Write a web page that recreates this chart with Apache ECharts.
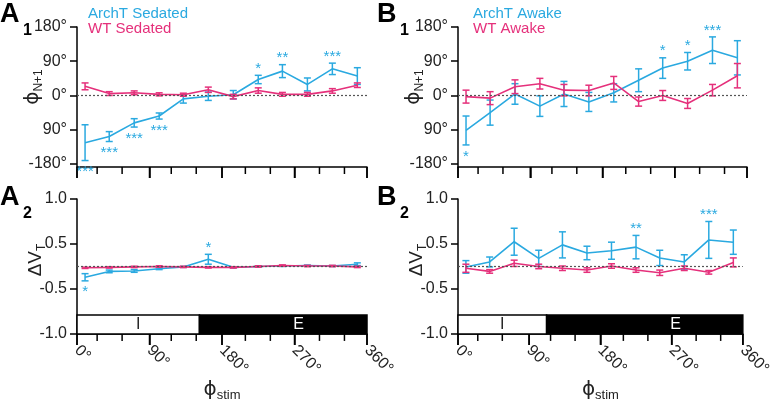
<!DOCTYPE html>
<html><head><meta charset="utf-8">
<script src="https://cdn.jsdelivr.net/npm/echarts@6/dist/echarts.min.js"></script>
<style>html,body{margin:0;padding:0;background:#fff}#c{width:774px;height:403px}</style>
</head><body><div id="c"></div>
<script>
// ---- data ----
const phase = [10, 40, 71, 102, 132, 163, 194, 225, 255, 286, 317, 348];
const majorTicks = [0, 90, 180, 270, 360];
const minorTicks = [25, 56, 117, 148, 209, 240, 301, 332];
const xTickLabels = ['0°', '90°', '180°', '270°', '360°'];
const topTickValues = [-180, -90, 0, 90, 180];
const topTickLabels = ['-180°', '90°', '0°', '90°', '180°'];
const botTickValues = [-1.5, -0.5, 0.5, 1.5];
const botTickLabels = ['-1.0', '-0.5', '0.5', '1.0'];

// A1: phase reset, sedated
const a1ArchMean = [-124, -108, -72, -54, -9, -2, 2, 42, 64, 29, 70, 51];
const a1ArchErr  = [47, 13, 11, 8, 11, 11, 11, 11, 17, 17, 15, 22];
const a1ArchSig  = ['***', '***', '***', '***', '', '', '', '*', '**', '', '***', ''];
const a1WtMean   = [24, 5, 7, 3, 2, 15, -3, 13, 3, 3, 12, 27];
const a1WtErr    = [9, 5, 5, 4, 4, 7, 6, 7, 5, 5, 6, 6];

// B1: phase reset, awake
const b1ArchMean = [-92, -45, 4, -28, 4, -17, 7, 40, 72, 90, 119, 99];
const b1ArchErr  = [38, 33, 27, 27, 33, 25, 24, 30, 27, 23, 35, 45];
const b1ArchSig  = ['*', '', '', '', '', '', '', '', '*', '*', '***', ''];
const b1WtMean   = [-3, -7, 23, 31, 14, 13, 33, -16, 0, -21, 14, 52];
const b1WtErr    = [17, 17, 18, 14, 15, 14, 17, 12, 13, 13, 15, 32];

// A2: delta VT, sedated
const a2ArchMean = [-0.24, -0.11, -0.10, -0.05, -0.01, 0.16, -0.02, 0.0, 0.01, 0.02, 0.01, 0.05];
const a2ArchErr  = [0.08, 0.03, 0.03, 0.02, 0.01, 0.11, 0.01, 0.01, 0.01, 0.01, 0.01, 0.03];
const a2ArchSig  = ['*', '', '', '', '', '*', '', '', '', '', '', ''];
const a2WtMean   = [-0.03, -0.02, -0.01, 0, -0.01, -0.02, -0.02, 0.0, 0.02, 0.01, 0.01, -0.01];
const a2WtErr    = [0.015, 0.015, 0.015, 0.015, 0.015, 0.015, 0.015, 0.015, 0.015, 0.015, 0.015, 0.015];

// B2: delta VT, awake
const b2ArchMean = [-0.01, 0.10, 0.55, 0.18, 0.48, 0.30, 0.35, 0.43, 0.19, 0.10, 0.59, 0.54];
const b2ArchErr  = [0.14, 0.11, 0.30, 0.18, 0.29, 0.15, 0.19, 0.26, 0.17, 0.16, 0.41, 0.27];
const b2ArchSig  = ['', '', '', '', '', '', '', '**', '', '', '***', ''];
const b2WtMean   = [-0.04, -0.11, 0.07, 0, -0.04, -0.08, 0.01, -0.08, -0.14, -0.04, -0.13, 0.09];
const b2WtErr    = [0.09, 0.04, 0.07, 0.05, 0.05, 0.05, 0.05, 0.05, 0.06, 0.05, 0.04, 0.10];

// respiratory phase bar (I / E) boundaries and label spots
const phaseBarA = [['I', 0, 152, 76], ['E', 152, 360, 275]];
const phaseBarB = [['I', 0, 112, 56], ['E', 112, 360, 275]];
const barTop = -1.08, barBottom = -1.5, barMid = -1.29;

// ---- styling ----
const CYAN = '#2AA9E0', MAG = '#E5307B';
const FONT = '"Liberation Sans", Arial, sans-serif';
const TOP_MIN = -188, TOP_MAX = 180, BOT_MIN = -1.5, BOT_MAX = 1.5;

const chart = echarts.init(document.getElementById('c'), null, {renderer: 'canvas'});

const grids = [
  {left: 77, top: 27, width: 290, height: 140},
  {left: 77, top: 199, width: 290, height: 138},
  {left: 458, top: 27, width: 289, height: 140},
  {left: 458, top: 199, width: 289, height: 138}
];

const axisLine = {show: true, onZero: false, lineStyle: {color: '#000', width: 1.5}};
function mainX(gi, bottom) {
  return {
    type: 'value', gridIndex: gi, min: 0, max: 360, interval: 90, position: 'bottom',
    axisLine: axisLine,
    axisTick: {show: true, length: 11, lineStyle: {color: '#000', width: 1.5}},
    splitLine: {show: false},
    axisLabel: bottom ? {
      show: true, rotate: -45, margin: 14, fontSize: 16, color: '#222', fontFamily: FONT,
      formatter: v => xTickLabels[Math.round(v / 90)]
    } : {show: false},
    name: bottom ? '{p|ϕ}{s|stim}' : '',
    nameLocation: 'middle', nameGap: 36,
    nameTextStyle: {rich: {
      p: {fontSize: 20, fontFamily: 'DejaVu Sans', color: '#222', lineHeight: 24},
      s: {fontSize: 13, fontFamily: FONT, color: '#222', verticalAlign: 'bottom', lineHeight: 14}
    }}
  };
}
function yTop(gi) {
  return {
    type: 'value', gridIndex: gi, min: TOP_MIN, max: TOP_MAX,
    axisLine: axisLine,
    axisTick: {show: true, length: 7, customValues: topTickValues, lineStyle: {color: '#000', width: 1.5}},
    axisLabel: {show: true, customValues: topTickValues, margin: 10, fontSize: 16, color: '#222', fontFamily: FONT,
      formatter: v => topTickLabels[topTickValues.indexOf(v)]},
    splitLine: {show: false}
  };
}
function yBot(gi) {
  return {
    type: 'value', gridIndex: gi, min: BOT_MIN, max: BOT_MAX,
    axisLine: axisLine,
    axisTick: {show: true, length: 7, customValues: botTickValues, lineStyle: {color: '#000', width: 1.5}},
    axisLabel: {show: true, customValues: botTickValues, margin: 10, fontSize: 16, color: '#222', fontFamily: FONT,
      formatter: v => botTickLabels[botTickValues.indexOf(v)]},
    splitLine: {show: false}
  };
}

function lineSeries(xi, yi, mean, color, z, withZero) {
  const s = {
    type: 'line', xAxisIndex: xi, yAxisIndex: yi, showSymbol: false, symbol: 'none',
    data: phase.map((p, i) => [p, mean[i]]),
    lineStyle: {color: color, width: 1.6}, z: z, silent: true, animation: false
  };
  if (withZero) {
    s.markLine = {silent: true, symbol: 'none', label: {show: false},
      lineStyle: {color: '#555', width: 1.2, type: [2, 2]},
      data: [{yAxis: 0}]};
  }
  return s;
}
// error bars (+ significance stars); the first item of a series given tickYMin also
// draws the x-axis ticks (long at 0/90/180/270/360, short at bin boundaries) via the axis scale
function errSeries(xi, yi, mean, err, sig, color, z, tickYMin) {
  return {
    type: 'custom', xAxisIndex: xi, yAxisIndex: yi, z: z, silent: true, animation: false, clip: false,
    data: phase.map((p, i) => [p, mean[i], err[i]]),
    renderItem: function (params, api) {
      const i = params.dataIndex;
      const x = api.value(0), m = api.value(1), e = api.value(2);
      const pt = api.coord([x, m + e]), pb = api.coord([x, m - e]);
      const cw = 3.5;
      const st = {stroke: color, lineWidth: 1.5};
      const ch = [
        {type: 'line', shape: {x1: pt[0], y1: pt[1], x2: pb[0], y2: pb[1]}, style: st},
        {type: 'line', shape: {x1: pt[0] - cw, y1: pt[1], x2: pt[0] + cw, y2: pt[1]}, style: st},
        {type: 'line', shape: {x1: pb[0] - cw, y1: pb[1], x2: pb[0] + cw, y2: pb[1]}, style: st}
      ];
      if (sig && sig[i]) {
        const above = m >= 0;
        ch.push({type: 'text', style: {
          text: sig[i], x: pt[0], y: above ? pt[1] + 1 : pb[1] + 4,
          align: 'center', verticalAlign: above ? 'bottom' : 'top',
          fill: color, fontSize: 15, fontFamily: FONT
        }});
      }
      if (tickYMin !== undefined && i === 0) {
        majorTicks.concat(minorTicks).forEach(t => {
          const q = api.coord([t, tickYMin]);
          const len = majorTicks.indexOf(t) >= 0 ? 11 : 7;
          ch.push({type: 'line', shape: {x1: q[0], y1: q[1], x2: q[0], y2: q[1] + len},
            style: {stroke: '#000', lineWidth: 1.5}});
        });
      }
      return {type: 'group', children: ch};
    }
  };
}
function barSeries(xi, yi, bar) {
  return {
    type: 'custom', xAxisIndex: xi, yAxisIndex: yi, z: 1, silent: true, animation: false,
    data: bar.map(b => [b[1], b[2], b[3]]),
    renderItem: function (params, api) {
      const i = params.dataIndex;
      const p1 = api.coord([api.value(0), barTop]);
      const p2 = api.coord([api.value(1), barBottom]);
      const pl = api.coord([api.value(2), barMid]);
      const isI = bar[i][0] === 'I';
      return {type: 'group', children: [
        {type: 'rect', shape: {x: p1[0], y: p1[1], width: p2[0] - p1[0], height: p2[1] - p1[1]},
          style: {fill: isI ? '#fff' : '#000', stroke: '#000', lineWidth: 1.5}},
        {type: 'text', style: {text: bar[i][0], x: pl[0], y: pl[1], align: 'center', verticalAlign: 'middle',
          fill: isI ? '#222' : '#fff', fontSize: 16, fontFamily: FONT}}
      ]};
    }
  };
}

const series = [
  // A1 (grid 0)
  lineSeries(0, 0, a1ArchMean, CYAN, 3, false),
  errSeries(0, 0, a1ArchMean, a1ArchErr, a1ArchSig, CYAN, 3),
  lineSeries(0, 0, a1WtMean, MAG, 4, true),
  errSeries(0, 0, a1WtMean, a1WtErr, null, MAG, 4, TOP_MIN),
  // A2 (grid 1)
  barSeries(1, 1, phaseBarA),
  lineSeries(1, 1, a2ArchMean, CYAN, 3, false),
  errSeries(1, 1, a2ArchMean, a2ArchErr, a2ArchSig, CYAN, 3),
  lineSeries(1, 1, a2WtMean, MAG, 4, true),
  errSeries(1, 1, a2WtMean, a2WtErr, null, MAG, 4, BOT_MIN),
  // B1 (grid 2)
  lineSeries(2, 2, b1ArchMean, CYAN, 3, false),
  errSeries(2, 2, b1ArchMean, b1ArchErr, b1ArchSig, CYAN, 3),
  lineSeries(2, 2, b1WtMean, MAG, 4, true),
  errSeries(2, 2, b1WtMean, b1WtErr, null, MAG, 4, TOP_MIN),
  // B2 (grid 3)
  barSeries(3, 3, phaseBarB),
  lineSeries(3, 3, b2ArchMean, CYAN, 3, false),
  errSeries(3, 3, b2ArchMean, b2ArchErr, b2ArchSig, CYAN, 3),
  lineSeries(3, 3, b2WtMean, MAG, 4, true),
  errSeries(3, 3, b2WtMean, b2WtErr, null, MAG, 4, BOT_MIN)
];

function panelLabel(letter, sub, x, y) {
  return [
    {type: 'text', left: x, top: y, style: {text: letter, fontSize: 27, fontWeight: 'bold', fontFamily: FONT, fill: '#000'}},
    {type: 'text', left: x + 23, top: y + 22, style: {text: sub, fontSize: 16, fontWeight: 'bold', fontFamily: FONT, fill: '#000'}}
  ];
}
function legendText(t, color, x, y) {
  return {type: 'text', left: x, top: y, style: {text: t, fontSize: 15, fontFamily: FONT, fill: color}};
}
const yNameRich = {
  p: {fontSize: 20, fontFamily: 'DejaVu Sans', fill: '#222', lineHeight: 24},
  d: {fontSize: 19, fontFamily: FONT, fill: '#222', lineHeight: 24},
  s: {fontSize: 12, fontFamily: FONT, fill: '#222', verticalAlign: 'bottom', lineHeight: 13}
};
function yName(text, x, y) {
  return {type: 'text', x: x, y: y, rotation: Math.PI / 2,
    style: {text: text, rich: yNameRich, align: 'center', verticalAlign: 'middle'}};
}

const graphic = [].concat(
  panelLabel('A', '1', 0, 1),
  panelLabel('A', '2', 0, 184),
  panelLabel('B', '1', 377, 1),
  panelLabel('B', '2', 377, 184),
  [legendText('ArchT Sedated', CYAN, 88, 6), legendText('WT Sedated', MAG, 88, 21),
   legendText('ArchT Awake', CYAN, 473, 6), legendText('WT Awake', MAG, 473, 21)],
  [yName('{p|ϕ}{s|N+1}', 33, 87), yName('{p|ϕ}{s|N+1}', 414, 87),
   yName('{d|ΔV}{s|T}', 36, 260), yName('{d|ΔV}{s|T}', 417, 260)]
);

chart.setOption({
  animation: false,
  backgroundColor: '#fff',
  grid: grids,
  xAxis: [mainX(0, false), mainX(1, true), mainX(2, false), mainX(3, true)],
  yAxis: [yTop(0), yBot(1), yTop(2), yBot(3)],
  series: series,
  graphic: graphic
});
</script>
</body></html>
